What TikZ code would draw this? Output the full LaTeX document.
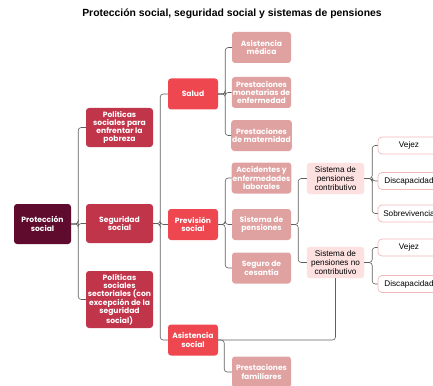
\documentclass[tikz,border=0pt]{standalone}
\usepackage{fontspec}
\setmainfont{Liberation Sans}
\newfontfamily\popfont{Poppins}
\usetikzlibrary{positioning}

\definecolor{raiz}{HTML}{5E0B2D}
\definecolor{nivuno}{HTML}{C1354B}
\definecolor{nivdos}{HTML}{EE474F}
\definecolor{nivtres}{HTML}{E0A1A1}
\definecolor{nivcuatro}{HTML}{FDE1E1}
\definecolor{borde}{HTML}{F1B9B9}
\definecolor{linea}{HTML}{5F5F5F}

\tikzset{
  caja/.style={rounded corners=3pt,align=center,inner sep=1pt,text=white,
    font=\popfont\bfseries\fontsize{7.6}{8.3}\selectfont},
  raizbox/.style={caja,fill=raiz,minimum width=57pt,minimum height=40pt},
  unobox/.style={caja,fill=nivuno,minimum width=67pt,minimum height=39pt},
  dosbox/.style={caja,fill=nivdos,minimum width=50pt,minimum height=31pt},
  tresbox/.style={caja,fill=nivtres,minimum width=59pt,minimum height=31pt},
  cuatrobox/.style={rounded corners=3pt,align=center,inner sep=1pt,fill=nivcuatro,
    draw=nivcuatro,minimum width=57pt,minimum height=31pt,
    font=\fontsize{8.2}{8.6}\selectfont},
  hojabox/.style={rounded corners=4pt,align=center,inner sep=1pt,fill=white,
    draw=borde,line width=0.7pt,minimum width=62pt,minimum height=17pt,
    font=\fontsize{8.2}{8.6}\selectfont},
  conn/.style={draw=linea,line width=0.6pt,rounded corners=3pt}
}

\begin{document}
\begin{tikzpicture}[x=1pt,y=-1pt]
\useasboundingbox (0,0) rectangle (433,385);
\clip (0,0) rectangle (433,385);

\node[font=\bfseries\fontsize{10.4}{12}\selectfont] (titulo) at (232,14)
  {Protección social, seguridad social y sistemas de pensiones};

% raiz y primer nivel
\node[raizbox] (proteccion) at (42.5,224) {Protección\\social};
\node[unobox] (pobreza) at (119.5,127.5) {Politicas\\sociales para\\enfrentar la\\pobreza};
\node[unobox] (seguridad) at (119.5,223.5) {Seguridad\\social};
\node[unobox,minimum height=57pt] (sectoriales) at (119.5,299.5)
  {Políticas\\sociales\\sectoriales (con\\excepción de la\\seguridad\\social)};

% segundo nivel
\node[dosbox] (salud) at (193,94) {Salud};
\node[dosbox] (prevision) at (193,224.5) {Previsión\\social};
\node[dosbox] (asistencia) at (193,340) {Asistencia\\social};

% tercer nivel
\node[tresbox] (medica) at (261.5,47.5) {Asistencia\\médica};
\node[tresbox] (monetarias) at (261.5,92.5) {Prestaciones\\monetarias de\\enfermedad};
\node[tresbox] (maternidad) at (261.5,135.5) {Prestaciones\\de maternidad};
\node[tresbox] (accidentes) at (261.5,178) {Accidentes y\\enfermedades\\laborales};
\node[tresbox] (pensiones) at (261.5,224.5) {Sistema de\\pensiones};
\node[tresbox] (cesantia) at (261.5,268) {Seguro de\\cesantía};
\node[tresbox] (familiares) at (261.5,372) {Prestaciones\\familiares};

% sistemas de pensiones
\node[cuatrobox] (contributivo) at (335.5,178.5) {Sistema de\\pensiones\\contributivo};
\node[cuatrobox] (nocontributivo) at (335.5,262.5) {Sistema de\\pensiones no\\contributivo};

\node[hojabox] (vejezA) at (409,145.5) {Vejez};
\node[hojabox] (discA) at (409,181) {Discapacidad};
\node[hojabox] (sobrev) at (409,213.5) {Sobrevivencia};
\node[hojabox] (vejezB) at (409,247.5) {Vejez};
\node[hojabox] (discB) at (409,284) {Discapacidad};

% conectores
\foreach \hijo in {pobreza,seguridad,sectoriales}
  \draw[conn] (proteccion.east) -- ++(7,0) |- (\hijo.west);
\foreach \hijo in {salud,prevision,asistencia}
  \draw[conn] (seguridad.east) -- ++(7,0) |- (\hijo.west);
\foreach \hijo in {medica,monetarias,maternidad}
  \draw[conn] (salud.east) -- ++(7,0) |- (\hijo.west);
\foreach \hijo in {accidentes,pensiones,cesantia}
  \draw[conn] (prevision.east) -- ++(7,0) |- (\hijo.west);
\draw[conn] (asistencia.east) -- ++(6,0) |- (familiares.west);
\foreach \hijo in {contributivo,nocontributivo}
  \draw[conn] (pensiones.east) -- ++(7,0) |- (\hijo.west);
\foreach \hijo in {vejezA,discA,sobrev}
  \draw[conn] (contributivo.east) -- ++(8,0) |- (\hijo.west);
\foreach \hijo in {vejezB,discB}
  \draw[conn] (nocontributivo.east) -- ++(8,0) |- (\hijo.west);
\draw[conn] (nocontributivo.south) |- (asistencia.east);
\end{tikzpicture}
\end{document}
